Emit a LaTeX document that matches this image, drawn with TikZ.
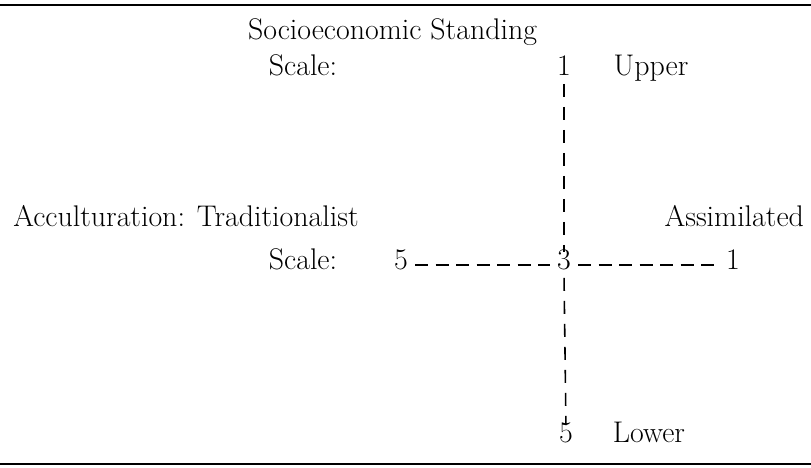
\documentclass[tikz,border=0pt]{standalone}
\usepackage{tikz}

\begin{document}
\begin{tikzpicture}[
        every node/.style={inner sep=1pt, font=\fontsize{17}{20}\selectfont},
        label/.style={text height=1.6ex, text depth=.3ex},
        hdash/.style={dash pattern=on 0.26cm off 0.15cm, line width=0.9pt, shorten <=3pt, shorten >=3pt},
        vdash/.style={dash pattern=on 0.26cm off 0.2cm, line width=0.9pt, shorten <=2pt, shorten >=2pt},
        rule/.style={line width=1pt}
      ]
        \useasboundingbox (0,0) rectangle (16.22,9.36);

        % Rules above and below
        \draw[rule] (0,9.26) -- (16.22,9.26);
        \draw[rule] (0,0.08) -- (16.22,0.08);

        % Vertical scale
        \node[label] (Title) at (7.85,8.66) {Socioeconomic Standing};
        \node[label] (TopScale) at (6.06,7.94) {Scale:};
        \node[label] (Top) at (11.28,7.94) {1};
        \node[label] (Upper) at (13.02,7.94) {Upper};
        \node[label] (Bot) at (11.32,0.6) {5};
        \node[label] (Lower) at (12.98,0.6) {Lower};

        % Horizontal scale
        \node[label] (Accult) at (3.72,4.92) {Acculturation: Traditionalist};
        \node[label, anchor=east] (Assim) at (16.12,4.92) {Assimilated};
        \node[label] (LeftScale) at (6.06,4.06) {Scale:};
        \node[label] (Left) at (8.02,4.06) {5};
        \node[label] (Mid) at (11.28,4.06) {3};
        \node[label] (Right) at (14.66,4.06) {1};

        \draw[vdash] (Top.south) -- (Mid.north);
        \draw[vdash] (Mid.south) -- (Bot.north);
        \draw[hdash] (Left.east) -- (Mid.west);
        \draw[hdash] (Mid.east) -- (Right.west);
      \end{tikzpicture}
\end{document}
